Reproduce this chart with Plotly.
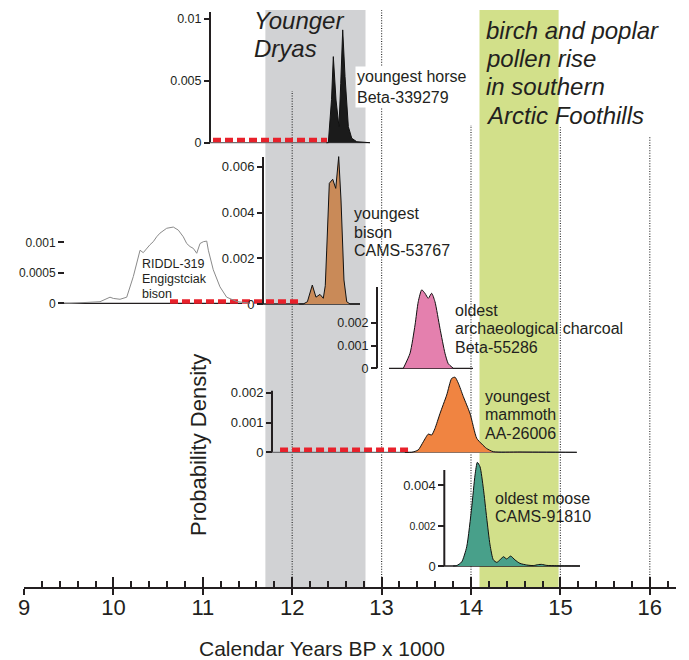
import plotly.graph_objects as go

# ---------------- data (calendar years BP x 1000, probability density) ----------------
horse_years = [12.38, 12.404, 12.44, 12.460, 12.490, 12.523, 12.543, 12.565, 12.591, 12.628, 12.666, 12.722, 12.87]
horse_dens = [0, 0.0, 0.0035, 0.00696, 0.00345, 0.0013, 0.0048, 0.00912, 0.00534, 0.0013, 0.00036, 0.00008, 0]

bison_years = [12.08, 12.124, 12.17, 12.225, 12.266, 12.311, 12.348, 12.37, 12.386, 12.415, 12.453,
               12.487, 12.520, 12.546, 12.579, 12.610, 12.647, 12.758]
bison_dens = [0, 0, 0.0001, 0.00083, 0.0003, 0.00042, 0.00025, 0.0008, 0.00236, 0.00528, 0.00546,
              0.00506, 0.00645, 0.00455, 0.00105, 0.0001, 0, 0]

riddl_years = [9.45, 9.515, 9.85, 9.962, 9.999, 10.074, 10.149, 10.223, 10.298, 10.334, 10.409, 10.446,
               10.484, 10.521, 10.596, 10.670, 10.726, 10.782, 10.820, 10.857, 10.894, 10.932, 10.969,
               11.006, 11.044, 11.062, 11.117, 11.192, 11.267, 11.379, 11.53]
riddl_dens = [0, 0, 0.000026, 0.0001, 0.00008, 0.000066, 0.0001, 0.00044, 0.00087, 0.00083, 0.00096, 0.00101,
              0.00109, 0.00115, 0.00123, 0.00125, 0.0012, 0.00109, 0.00098, 0.00093, 0.0009, 0.00082, 0.00098,
              0.00101, 0.00102, 0.00087, 0.00055, 0.00027, 0.0001, 0.00003, 0]

charcoal_years = [13.243, 13.318, 13.374, 13.410, 13.449, 13.485, 13.522, 13.560, 13.597, 13.653, 13.709, 13.746, 13.802]
charcoal_dens = [0, 0.00066, 0.0019, 0.00292, 0.00344, 0.00329, 0.00307, 0.00329, 0.00292, 0.00175, 0.00066, 0.0002, 0]

mammoth_years = [13.26, 13.337, 13.410, 13.466, 13.522, 13.560, 13.597, 13.653, 13.728, 13.784, 13.821, 13.858,
                 13.914, 13.989, 14.064, 14.120, 14.174, 14.250, 14.548, 15.182]
mammoth_dens = [0, 0, 0.00008, 0.00035, 0.00061, 0.00058, 0.0008, 0.0013, 0.00192, 0.00248, 0.00252, 0.00232,
                0.00187, 0.0013, 0.00047, 0.00028, 0.00013, 0.00002, 0.00001, 0]

moose_years = [13.80, 13.840, 13.896, 13.952, 14.008, 14.045, 14.071, 14.101, 14.138, 14.176, 14.213, 14.250,
               14.288, 14.324, 14.362, 14.399, 14.444, 14.492, 14.548, 14.623, 14.697, 14.753, 14.791, 14.847,
               14.959, 15.219]
moose_dens = [0, 0.00002, 0.0002, 0.00095, 0.0029, 0.00449, 0.00512, 0.0049, 0.00384, 0.00236, 0.00104, 0.0003,
              0.00018, 0.0003, 0.00046, 0.00035, 0.00049, 0.0003, 0.00013, 0.00005, 0.00002, 0.00007, 0.00008,
              0.00003, 0.00001, 0]

# gaps (red dashed) : start, end years
horse_gap = [11.114, 12.389]
bison_gap = [10.633, 12.087]
mammoth_gap = [11.864, 13.318]

younger_dryas = [11.7, 12.82]
pollen_rise = [14.095, 14.98]
reference_years = [12, 13, 14, 15, 16]

x_ticks = [9, 10, 11, 12, 13, 14, 15, 16]

# ---------------- layout helpers ----------------
PAGE_MARGIN = 8          # default <body> margin of the html page
W, H = 689 - PAGE_MARGIN, 660 - PAGE_MARGIN
X0_PX, PX_PER_KYR, X_END_PX = 24, 89.4, 676
AXIS_Y_PX = 588
INK = "#231f20"
FONT = "Liberation Sans, Arial, sans-serif"


def fx(px):
    return (px - PAGE_MARGIN) / W


def fy(py):
    return 1 - (py - PAGE_MARGIN) / H


fig = go.Figure()
layout_axes = {}
shapes = []
annotations = []

panels = [
    dict(years=horse_years, dens=horse_dens, fill="#1b1b1b", shape="linear", axis_px=210, zero_px=142.7,
         k=12370, tickvals=[0, 0.005, 0.01], ticktext=["0", "0.005", "0.01"], spine_top=12,
         base=(210, 370, "#6d6e71"), gap=horse_gap, fs=12.5),
    dict(years=bison_years, dens=bison_dens, fill="#c98a58", shape="linear", axis_px=263, zero_px=304,
         k=22850, tickvals=[0, 0.002, 0.004, 0.006], ticktext=["0", "0.002", "0.004", "0.006"], spine_top=157,
         base=(263, 360, INK), gap=bison_gap, fs=13),
    dict(years=riddl_years, dens=riddl_dens, fill=None, shape="linear", axis_px=64, zero_px=303.3,
         k=61000, tickvals=[0, 0.0005, 0.001], ticktext=["0", "0.0005", "0.001"], spine_top=None,
         base=(60, 242, INK), gap=None, fs=12),
    dict(years=charcoal_years, dens=charcoal_dens, fill="#e480ae", shape="spline", axis_px=377, zero_px=368.3,
         k=22800, tickvals=[0, 0.001, 0.002], ticktext=["0", "0.001", "0.002"], spine_top=287,
         base=(389, 473, INK), gap=None, fs=12.5),
    dict(years=mammoth_years, dens=mammoth_dens, fill="#f08441", shape="spline", axis_px=272, zero_px=452.3,
         k=29800, tickvals=[0, 0.001, 0.002], ticktext=["0", "0.001", "0.002"], spine_top=390.7,
         base=(272, 577, "#6d6e71"), gap=mammoth_gap, fs=13),
    dict(years=moose_years, dens=moose_dens, fill="#48a08a", shape="spline", axis_px=444.3, zero_px=566,
         k=20250, tickvals=[0, 0.002, 0.004],
         ticktext=["0", "<span style='font-size:10.5px'>0.002</span>", "0.004"], spine_top=470,
         base=(444, 580, INK), gap=None, fs=13),
]

# background bands and reference dotted lines
band_top_px = 10
for (a, b), col in [(younger_dryas, "#d1d2d4"), (pollen_rise, "#d2e08a")]:
    shapes.append(dict(type="rect", xref="x", yref="paper", x0=a, x1=b, y0=fy(AXIS_Y_PX), y1=fy(band_top_px),
                       fillcolor=col, line=dict(width=0), layer="below"))
dotted_tops_px = [91, 10, 125, 127, 136]
for yr, top in zip(reference_years, dotted_tops_px):
    shapes.append(dict(type="line", xref="x", yref="paper", x0=yr, x1=yr, y0=fy(AXIS_Y_PX), y1=fy(top),
                       line=dict(color="#333", width=1.2, dash="1px,1.6px"), layer="below"))

for i, p in enumerate(panels):
    n = "" if i == 0 else str(i + 1)
    yname = "yaxis" + n
    yref = "y" + n
    top_px = max(PAGE_MARGIN, p["zero_px"] - 175)
    bot_px = p["zero_px"] + 8
    layout_axes[yname] = dict(
        domain=[fy(bot_px), fy(top_px)],
        range=[-(bot_px - p["zero_px"]) / p["k"], (p["zero_px"] - top_px) / p["k"]],
        anchor="free", position=fx(p["axis_px"]),
        showgrid=False, zeroline=False, showline=False,
        tickmode="array", tickvals=p["tickvals"], ticktext=p["ticktext"],
        ticks="outside", ticklen=6, tickwidth=2, tickcolor=INK,
        tickfont=dict(family=FONT, size=p["fs"], color=INK), automargin=False, fixedrange=True,
    )
    if p["spine_top"] is not None:
        shapes.append(dict(type="line", xref="paper", yref="paper", x0=fx(p["axis_px"]), x1=fx(p["axis_px"]),
                           y0=fy(p["zero_px"]), y1=fy(p["spine_top"]), line=dict(color=INK, width=2), layer="below"))
    s, e, c = p["base"]
    shapes.append(dict(type="line", xref="paper", yref="paper", x0=fx(s), x1=fx(e),
                       y0=fy(p["zero_px"]), y1=fy(p["zero_px"]), line=dict(color=c, width=1.3), layer="below"))
    if p["fill"]:
        fig.add_trace(go.Scatter(x=p["years"], y=p["dens"], xaxis="x", yaxis=yref, mode="lines",
                                 fill="tozeroy", fillcolor=p["fill"],
                                 line=dict(color="#111", width=1, shape=p["shape"], smoothing=0.6),
                                 hoverinfo="skip", showlegend=False))
    else:
        fig.add_trace(go.Scatter(x=p["years"], y=p["dens"], xaxis="x", yaxis=yref, mode="lines",
                                 line=dict(color="#8a8a8a", width=1), hoverinfo="skip", showlegend=False))
    if p["gap"] is not None:
        lvl = 2.6 / p["k"]
        fig.add_trace(go.Scatter(x=p["gap"], y=[lvl, lvl], xaxis="x", yaxis=yref, mode="lines",
                                 line=dict(color="#e8212b", width=4.5, dash="8px,4px"),
                                 hoverinfo="skip", showlegend=False))

# invisible trace registering the overlay x axis (lower half of major ticks)
fig.add_trace(go.Scatter(x=[], y=[], xaxis="x2", yaxis="y", showlegend=False, hoverinfo="skip"))

x_range = [9, 9 + (X_END_PX - X0_PX) / PX_PER_KYR]
layout_axes["xaxis"] = dict(
    domain=[fx(X0_PX), fx(X_END_PX)], range=x_range, anchor="free", position=fy(AXIS_Y_PX),
    showgrid=False, zeroline=False, showline=True, linecolor=INK, linewidth=2,
    tickmode="array", tickvals=x_ticks, ticktext=[str(t) for t in x_ticks],
    ticks="inside", ticklen=10, tickwidth=2, tickcolor=INK,
    tickfont=dict(family="Liberation Sans Narrow, Liberation Sans, Arial, sans-serif", size=22, color=INK),
    minor=dict(ticks="inside", ticklen=6, tickwidth=1.5, tickcolor=INK, dtick=0.2, tick0=9, showgrid=False),
    automargin=False, fixedrange=True,
)
layout_axes["xaxis2"] = dict(
    domain=[fx(X0_PX), fx(X_END_PX)], range=x_range, anchor="free", position=fy(AXIS_Y_PX), overlaying="x",
    showgrid=False, zeroline=False, showline=False, showticklabels=False,
    tickmode="array", tickvals=x_ticks, ticks="outside", ticklen=6, tickwidth=2, tickcolor=INK,
    automargin=False, fixedrange=True,
)


def label(lines, x_px, y0_px, step, size, italic=False, bg=None):
    for j, t in enumerate(lines):
        annotations.append(dict(text=f"<i>{t}</i>" if italic else t, xref="paper", yref="paper",
                                x=fx(x_px), y=fy(y0_px + j * step), xanchor="left", yanchor="middle",
                                showarrow=False, font=dict(family=FONT, size=size, color=INK),
                                bgcolor=bg))


label(["Younger", "Dryas"], 252, 21, 28, 24, italic=True)
label(["birch and poplar", "pollen rise", "in southern", "Arctic Foothills"], 484, 30, 28.4, 24, italic=True)
annotations.append(dict(text="youngest horse<br>Beta-339279", xref="paper", yref="paper", x=fx(355), y=fy(87),
                        xanchor="left", yanchor="middle", showarrow=False, align="left",
                        font=dict(family=FONT, size=16, color=INK), bgcolor="white", borderpad=1))
label(["youngest", "bison", "CAMS-53767"], 352, 214, 18.4, 16)
label(["RIDDL-319", "Engigstciak", "bison"], 140, 264, 15, 12.5)
label(["oldest", "archaeological charcoal", "Beta-55286"], 453, 310, 18.5, 16)
label(["youngest", "mammoth", "AA-26006"], 483, 396, 18.8, 16)
label(["oldest moose", "CAMS-91810"], 493, 498, 18.4, 16)

annotations.append(dict(text="Probability Density", xref="paper", yref="paper", x=fx(198), y=fy(445),
                        xanchor="center", yanchor="middle", textangle=-90, showarrow=False,
                        font=dict(family=FONT, size=22, color=INK)))
annotations.append(dict(text="Calendar Years BP x 1000", xref="paper", yref="paper", x=fx(322), y=fy(648),
                        xanchor="center", yanchor="middle", showarrow=False,
                        font=dict(family=FONT, size=21, color=INK)))

fig.update_layout(
    width=W, height=H, margin=dict(l=0, r=0, t=0, b=0),
    paper_bgcolor="white", plot_bgcolor="rgba(0,0,0,0)",
    showlegend=False, shapes=shapes, annotations=annotations, **layout_axes,
)

fig.write_html("out.html")
